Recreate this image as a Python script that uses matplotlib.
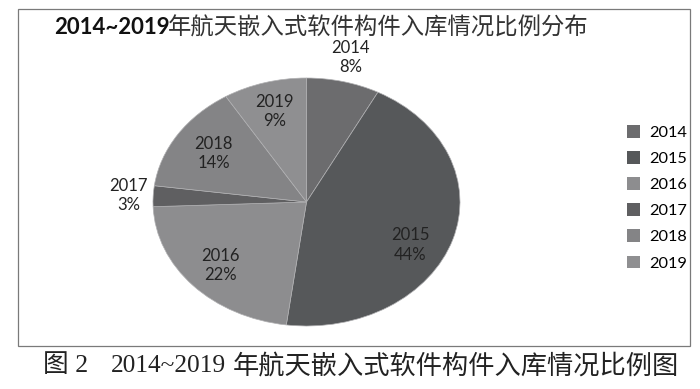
import numpy as np
import matplotlib
matplotlib.use("Agg")
import matplotlib.pyplot as plt
from matplotlib.patches import Rectangle

# share of components stored per year (percent)
years = ["2014", "2015", "2016", "2017", "2018", "2019"]
shares = [7.7, 44.4, 22.3, 2.7, 14.1, 8.8]

title_num = "2014~2019"
title_cjk = "年航天嵌入式软件构件入库情况比例分布"
caption_fig = "图 2"
caption_num = "2014~2019"
caption_cjk = "年航天嵌入式软件构件入库情况比例图"

colors = ["#6c6c6e", "#56585a", "#8d8d8f", "#5f5f61", "#848486", "#8f8f91"]
# label radius and position within wedge (0.5 = middle)
label_r = [1.2, 0.76, 0.76, 1.16, 0.72, 0.76]
label_frac = [0.5, 0.56, 0.5, 0.5, 0.5, 0.5]

LABEL_FONT = ["Lato", "Noto Sans CJK SC"]
SERIF = ["Liberation Serif", "Noto Sans CJK SC"]

fig = plt.figure(figsize=(7.0, 3.89), dpi=100)

# outer frame of the chart
fig.patches.append(Rectangle((18 / 700, 1 - 346 / 389), 672 / 700, 337 / 389,
                             transform=fig.transFigure, fill=False,
                             edgecolor="#7a7a7a", linewidth=0.9))

ax = fig.add_axes([153 / 700, 1 - 326 / 389, 307 / 700, 248 / 389])
wedges, _ = ax.pie(shares, colors=colors, startangle=90, counterclock=False,
                   wedgeprops=dict(edgecolor="#b0b0b2", linewidth=0.5))
ax.set_aspect("auto")
ax.set_xlim(-1, 1)
ax.set_ylim(-1, 1)
ax.axis("off")

for w, yr, v, r, f in zip(wedges, years, shares, label_r, label_frac):
    ang = np.deg2rad(w.theta2 - f * (w.theta2 - w.theta1))
    ax.text(r * np.cos(ang), r * np.sin(ang), f"{yr}\n{v:.0f}%",
            ha="center", va="center", fontsize=12, color="#222222",
            family=LABEL_FONT, linespacing=1.25)

leg = fig.legend(wedges, years, loc="upper left", bbox_to_anchor=(627 / 700, 1 - 125 / 389),
                 frameon=False, borderpad=0, borderaxespad=0,
                 handlelength=0.8, handleheight=0.8, handletextpad=0.55,
                 labelspacing=0.68, prop=dict(family=LABEL_FONT, size=11.8))
for h in leg.legend_handles:
    h.set_edgecolor("none")

# title: bold numbers then regular CJK
fig.text(54 / 700, 1 - 28 / 389, title_num, ha="left", va="center",
         fontsize=16, fontweight="bold", family=LABEL_FONT, color="#111111")
fig.text(168 / 700, 1 - 28 / 389, title_cjk, ha="left", va="center",
         fontsize=16.8, family=["Noto Sans CJK SC"], color="#333333")

# caption under the frame
fig.text(43 / 700, 1 - 366 / 389, caption_fig, ha="left", va="center",
         fontsize=18.5, family=SERIF, color="#222222")
fig.text(111 / 700, 1 - 366 / 389, caption_num, ha="left", va="center",
         fontsize=18.3, family=SERIF, color="#222222")
fig.text(233 / 700, 1 - 366 / 389, caption_cjk, ha="left", va="center",
         fontsize=18.9, family=["Noto Sans CJK SC"], color="#222222")

fig.savefig("out.png", dpi=100, facecolor="white")
